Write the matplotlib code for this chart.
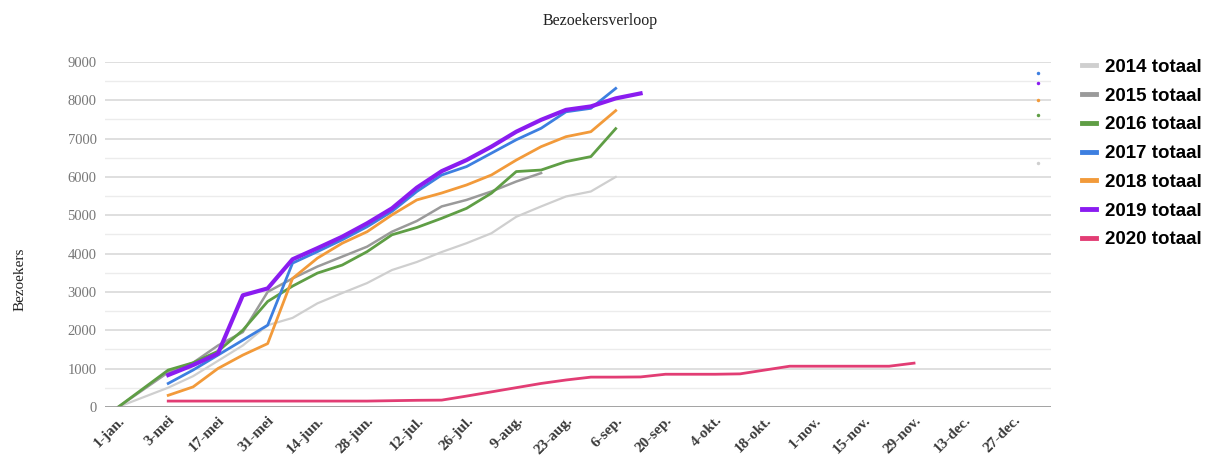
import numpy as np
import matplotlib.pyplot as plt
from matplotlib.ticker import MultipleLocator

nan = np.nan

# weekly categories, label on every other week
tick_labels = ['1-jan.', '3-mei', '17-mei', '31-mei', '14-jun.', '28-jun.', '12-jul.',
               '26-jul.', '9-aug.', '23-aug.', '6-sep.', '20-sep.', '4-okt.', '18-okt.',
               '1-nov.', '15-nov.', '29-nov.', '13-dec.', '27-dec.']
n_weeks = 38

def pad(vals, start=0):
    out = [nan] * n_weeks
    for k, v in enumerate(vals):
        out[start + k] = v
    return out

v2014 = pad([0, 250, 500, 800, 1200, 1600, 2130, 2320, 2700, 2970, 3230, 3570, 3780,
             4040, 4270, 4530, 4960, 5230, 5490, 5620, 6000])
v2014[37] = 6365
v2015 = pad([0, 450, 900, 1150, 1600, 1950, 3000, 3350, 3660, 3920, 4180, 4570, 4850,
             5230, 5400, 5620, 5880, 6100])
v2016 = pad([0, 480, 960, 1150, 1450, 2000, 2750, 3150, 3490, 3700, 4050, 4490, 4680,
             4920, 5180, 5575, 6140, 6180, 6400, 6530, 7260])
v2016[37] = 7620
v2017 = pad([610, 960, 1350, 1740, 2130, 3750, 4050, 4360, 4700, 5100, 5620, 6050,
             6270, 6620, 6970, 7270, 7700, 7790, 8310], start=2)
v2017[37] = 8710
v2018 = pad([300, 520, 1000, 1350, 1650, 3350, 3880, 4270, 4570, 5010, 5400, 5580,
             5790, 6050, 6440, 6790, 7050, 7180, 7730], start=2)
v2018[37] = 8010
v2019 = pad([830, 1090, 1390, 2910, 3090, 3850, 4140, 4440, 4790, 5180, 5720, 6150,
             6440, 6790, 7180, 7490, 7750, 7840, 8050, 8180], start=2)
v2019[37] = 8450
v2020 = pad([150, 150, 150, 150, 150, 150, 150, 150, 150, 160, 170, 175, 280, 390,
             500, 610, 700, 775, 775, 780, 850, 850, 850, 860, 960, 1060, 1060, 1060,
             1060, 1060, 1140], start=2)

series = [
    ('2014 totaal', v2014, '#cfcfcf', 1.6),
    ('2015 totaal', v2015, '#9a9a9a', 1.8),
    ('2016 totaal', v2016, '#5f9e45', 2.0),
    ('2017 totaal', v2017, '#3d7fe0', 2.0),
    ('2018 totaal', v2018, '#f29a3a', 2.0),
    ('2019 totaal', v2019, '#8a1cf0', 3.0),
    ('2020 totaal', v2020, '#e23d74', 2.0),
]

plt.rcParams['font.family'] = ['Liberation Serif', 'DejaVu Serif']

fig = plt.figure(figsize=(12.05, 4.66), dpi=100)
ax = fig.add_axes([0.087, 0.127, 0.785, 0.74])

x = np.arange(n_weeks)
for name, vals, color, lw in series:
    y = np.array(vals, dtype=float)
    ax.plot(x, y, color=color, lw=lw, label=name, solid_joinstyle='round')
    # isolated points (year totals) shown as dots
    for i in range(n_weeks):
        left = np.isnan(y[i - 1]) if i > 0 else True
        right = np.isnan(y[i + 1]) if i < n_weeks - 1 else True
        if not np.isnan(y[i]) and left and right:
            ax.plot(x[i], y[i], 'o', color=color, ms=2.5, mew=0)

ax.set_xlim(-0.55, 37.5)
ax.set_ylim(0, 9000)
ax.yaxis.set_major_locator(MultipleLocator(1000))
ax.yaxis.set_minor_locator(MultipleLocator(500))
ax.grid(which='major', axis='y', color='#d9d9d9', lw=1.2)
ax.grid(which='minor', axis='y', color='#ececec', lw=1.0)
ax.axhline(0, color='#9a9a9a', lw=1.2)
ax.set_axisbelow(True)
for s in ax.spines.values():
    s.set_visible(False)

ax.set_xticks(np.arange(0, 37, 2))
ax.set_xticklabels(tick_labels, rotation=45, ha='right', rotation_mode='anchor',
                   fontsize=11, color='#3a3a3a', fontweight='bold')
ax.tick_params(axis='both', which='both', length=0)
ax.tick_params(axis='x', pad=5)
ax.tick_params(axis='y', labelsize=10.5, labelcolor='#777777', pad=6)

fig.text(0.017, 0.40, 'Bezoekers', rotation=90, ha='center', va='center',
         fontsize=11, color='#222222')
fig.text(0.498, 0.955, 'Bezoekersverloop', ha='center', va='center', fontsize=11.5,
         color='#222222')

leg = fig.legend(loc='upper left', bbox_to_anchor=(0.884, 0.91), frameon=False,
                 handlelength=0.75, handletextpad=0.45, labelspacing=0.62,
                 prop={'family': 'Liberation Sans', 'weight': 'bold', 'size': 13.5})
for h in leg.get_lines():
    h.set_linewidth(3.5)

fig.savefig('out.png', dpi=100)
